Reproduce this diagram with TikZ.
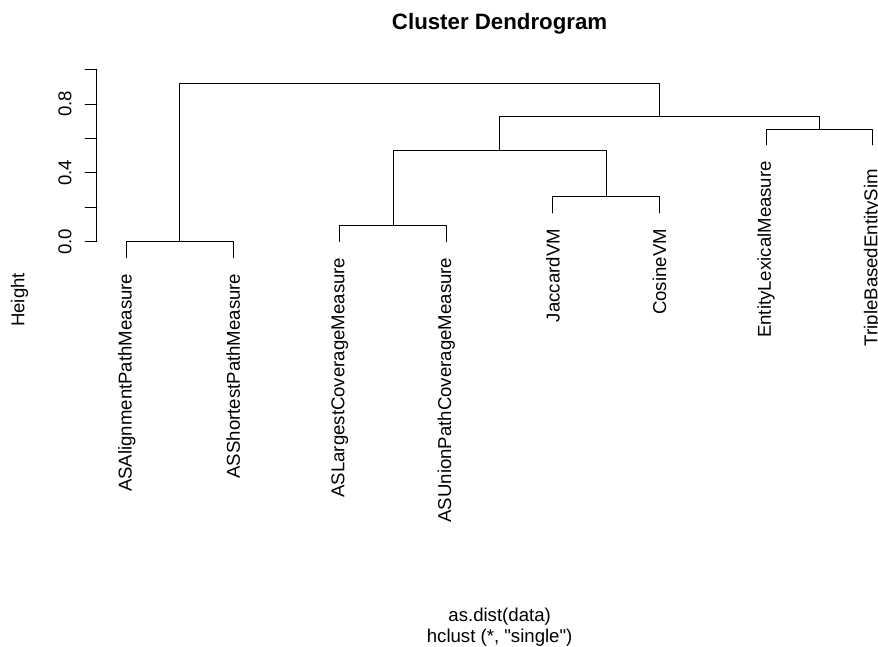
\documentclass[tikz,border=0pt]{standalone}
\usepackage{fontspec}
\setmainfont{Liberation Sans}
\usepackage{tikz}

\tikzset{
  leaf/.style={rotate=90, anchor=east, inner sep=0pt, font=\fontsize{13.95pt}{16pt}\selectfont},
  ticklab/.style={rotate=90, anchor=base, inner sep=0pt, font=\fontsize{13.95pt}{16pt}\selectfont},
  plain/.style={anchor=base, inner sep=0pt, font=\fontsize{13.95pt}{16pt}\selectfont},
  branch/.style={line width=0.75pt, line cap=round, line join=round},
}

\begin{document}
\begin{tikzpicture}[x=79.91pt, y=129pt]
\useasboundingbox (-0.189,-2.356) rectangle (8.051,1.405);
% title and axis texts
\node[plain, font=\fontsize{16.7pt}{19pt}\selectfont\bfseries] (title) at (4.5,1.234) {Cluster Dendrogram};
\node[plain] (sub1) at (4.5,-2.208) {as.dist(data)};
\node[plain] (sub2) at (4.5,-2.329) {hclust (*, \textquotedbl single\textquotedbl)};
\node[ticklab] (ylab) at (0.04,-0.339) {Height};
% height axis
\coordinate (ax0) at (0.721,0);
\coordinate (ax1) at (0.721,1);
\draw[branch] (ax0) -- (ax1);
\foreach \t in {0,0.2,0.4,0.6,0.8,1}
  \draw[branch] (0.721,\t) -- (0.609,\t);
\foreach \t/\lab in {0/0.0,0.4/0.4,0.8/0.8}
  \node[ticklab] (tick\lab) at (0.482,\t) {\lab};
% leaves
\foreach \i/\name/\lo in {1/ASAlignmentPathMeasure/-0.092, 2/ASShortestPathMeasure/-0.092,
    3/ASLargestCoverageMeasure/0.001, 4/ASUnionPathCoverageMeasure/0.001,
    5/JaccardVM/0.168, 6/CosineVM/0.168,
    7/EntityLexicalMeasure/0.563}{
  \coordinate (l\i) at (\i,\lo);
  \node[leaf] (t\i) at (\i,\lo-0.093) {\name};
}
\coordinate (l8) at (8,0.563);
\node[leaf, xshift=-6pt] (t8) at (8,0.47) {TripleBasedEntitySim};
% merges
\coordinate (m1) at (1.5,0);
\coordinate (m2) at (3.5,0.093);
\coordinate (m3) at (5.5,0.26);
\coordinate (m4) at (7.5,0.655);
\coordinate (m5) at (4.5,0.529);
\coordinate (m6) at (6,0.727);
\coordinate (m7) at (3.75,0.917);
\draw[branch] (l1) |- (m1) -| (l2);
\draw[branch] (l3) |- (m2) -| (l4);
\draw[branch] (l5) |- (m3) -| (l6);
\draw[branch] (l7) |- (m4) -| (l8);
\draw[branch] (m2) |- (m5) -| (m3);
\draw[branch] (m5) |- (m6) -| (m4);
\draw[branch] (m1) |- (m7) -| (m6);
\end{tikzpicture}
\end{document}
